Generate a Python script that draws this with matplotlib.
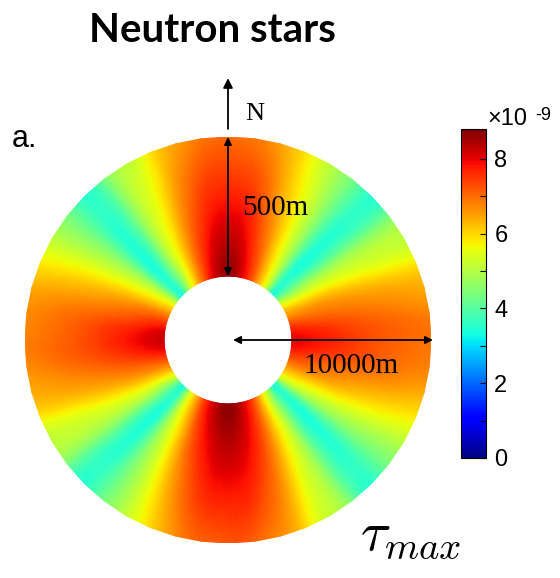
import numpy as np
import matplotlib
matplotlib.use("Agg")
import matplotlib.pyplot as plt
import matplotlib.tri as mtri

plt.rcParams["mathtext.fontset"] = "cm"

# ring radii (normalised to outer radius) and angles (deg, CCW from east)
radii = [0.315, 0.5, 0.75, 1.0]
angles_deg = [0, 7.5, 15, 22.5, 30, 37.5, 45, 52.5, 60, 67.5, 75, 82.5,
              90, 97.5, 105, 112.5, 120, 127.5, 135, 142.5, 150, 157.5, 165, 172.5,
              180, 187.5, 195, 202.5, 210, 217.5, 225, 232.5, 240, 247.5, 255, 262.5,
              270, 277.5, 285, 292.5, 300, 307.5, 315, 322.5, 330, 337.5, 345, 352.5]

# tau_max (x1e-9) read along each ring
tau_r1 = [8.0, 7.8, 7.3, 6.6, 6.0, 4.9, 3.4, 4.9, 6.1, 7.1, 7.8, 8.4,
          8.6, 8.4, 7.9, 7.1, 6.1, 5.0, 3.4, 4.8, 6.0, 6.8, 7.5, 8.1,
          8.2, 8.0, 7.5, 6.8, 6.0, 4.9, 3.4, 5.0, 6.2, 7.3, 8.0, 8.5,
          8.7, 8.5, 8.0, 7.3, 6.2, 5.0, 3.4, 4.9, 6.0, 6.7, 7.3, 7.8]
tau_r2 = [7.7, 7.5, 7.0, 6.5, 5.6, 4.5, 3.4, 4.5, 5.7, 6.7, 7.5, 8.1,
          8.3, 8.1, 7.5, 6.7, 5.7, 4.6, 3.4, 4.5, 5.6, 6.5, 7.1, 7.6,
          7.8, 7.6, 7.1, 6.5, 5.6, 4.5, 3.4, 4.6, 5.8, 6.9, 7.7, 8.2,
          8.4, 8.2, 7.7, 6.9, 5.8, 4.6, 3.4, 4.5, 5.6, 6.5, 7.0, 7.5]
tau_r3 = [7.2, 7.1, 6.7, 6.1, 5.3, 4.4, 3.5, 4.4, 5.4, 6.2, 7.0, 7.5,
          7.6, 7.5, 7.0, 6.2, 5.4, 4.4, 3.5, 4.4, 5.3, 6.1, 6.7, 7.1,
          7.2, 7.1, 6.7, 6.1, 5.3, 4.4, 3.5, 4.4, 5.4, 6.4, 7.2, 7.7,
          7.8, 7.7, 7.2, 6.4, 5.4, 4.4, 3.5, 4.4, 5.3, 6.1, 6.7, 7.1]
tau_r4 = [6.9, 6.8, 6.4, 5.8, 5.1, 4.4, 3.5, 4.4, 5.1, 5.9, 6.5, 6.9,
          7.0, 6.9, 6.5, 5.9, 5.1, 4.4, 3.5, 4.4, 5.1, 5.8, 6.4, 6.7,
          6.8, 6.7, 6.4, 5.8, 5.1, 4.4, 3.5, 4.4, 5.2, 6.0, 6.7, 7.1,
          7.2, 7.1, 6.7, 6.0, 5.2, 4.4, 3.5, 4.4, 5.1, 5.8, 6.4, 6.8]

cbar_ticks = [0, 2, 4, 6, 8]
vmin, vmax = 0, 8.8

# build the annular mesh
th = np.deg2rad(angles_deg)
R, TH = np.meshgrid(radii, th, indexing="ij")
x = (R * np.cos(TH)).ravel()
y = (R * np.sin(TH)).ravel()
z = np.array([tau_r1, tau_r2, tau_r3, tau_r4]).ravel()

n = len(angles_deg)
tris = []
for i in range(len(radii) - 1):
    for j in range(n):
        a = i * n + j
        b = i * n + (j + 1) % n
        c = (i + 1) * n + j
        d = (i + 1) * n + (j + 1) % n
        tris.append([a, b, c])
        tris.append([c, b, d])
triang = mtri.Triangulation(x, y, np.array(tris))
refiner = mtri.UniformTriRefiner(triang)
tri_fine, z_fine = refiner.refine_field(z, subdiv=3)

fig = plt.figure(figsize=(5.6, 5.78), dpi=100)
ax = fig.add_axes([25 / 560, 35 / 578, 406 / 560, 406 / 578])
pc = ax.tripcolor(tri_fine, z_fine, shading="gouraud", cmap="jet",
                  vmin=vmin, vmax=vmax)
ax.set_xlim(-1, 1)
ax.set_ylim(-1, 1)
ax.set_aspect("equal")
ax.axis("off")

arrow = dict(arrowstyle="<|-|>", color="black", lw=1.3,
             mutation_scale=11, shrinkA=0, shrinkB=0)
# 500m (radial, inner to outer, north)
ax.annotate("", xy=(0, 1.0), xytext=(0, 0.315), arrowprops=arrow,
            annotation_clip=False)
# 10000m (centre to outer, east)
ax.annotate("", xy=(1.01, 0), xytext=(0.025, 0), arrowprops=arrow,
            annotation_clip=False)
# north arrow
ax.annotate("", xy=(0, 1.29), xytext=(0, 1.04),
            arrowprops=dict(arrowstyle="-|>", color="black", lw=1.3,
                            mutation_scale=14, shrinkA=0, shrinkB=0),
            annotation_clip=False)

serif = "Liberation Serif"
sans = "Liberation Sans"
fig.text(212 / 560, 1 - 30 / 578, "Neutron stars", ha="center", va="center",
         fontsize=29, fontweight="bold", family="Lato")
fig.text(12 / 560, 1 - 147 / 578, "a.", fontsize=22, family=sans, va="baseline")
fig.text(245 / 560, 1 - 120 / 578, "N", fontsize=19, family=serif, va="baseline")
fig.text(242 / 560, 1 - 215 / 578, "500m", fontsize=21, family=serif, va="baseline")
fig.text(303 / 560, 1 - 373 / 578, "10000m", fontsize=21, family=serif, va="baseline")
fig.text(360 / 560, 1 - 550 / 578, r"$\tau_{max}$", fontsize=40, va="baseline")

# colorbar
cax = fig.add_axes([461 / 560, 120 / 578, 25 / 560, 329 / 578])
cb = fig.colorbar(pc, cax=cax, ticks=cbar_ticks)
cb.ax.set_yticks(range(0, 9), minor=True)
cb.ax.tick_params(which="both", direction="in", length=4, width=0.8,
                  labelsize=17, pad=6)
for lab in cb.ax.get_yticklabels():
    lab.set_family(sans)
cb.outline.set_linewidth(0.8)
fig.text(487 / 560, 1 - 125 / 578, "\u00d710", fontsize=17, family=sans,
         va="baseline")
fig.text(535 / 560, 1 - 120 / 578, "-9", fontsize=13, family=sans,
         va="baseline")

fig.savefig("out.png", dpi=100)
